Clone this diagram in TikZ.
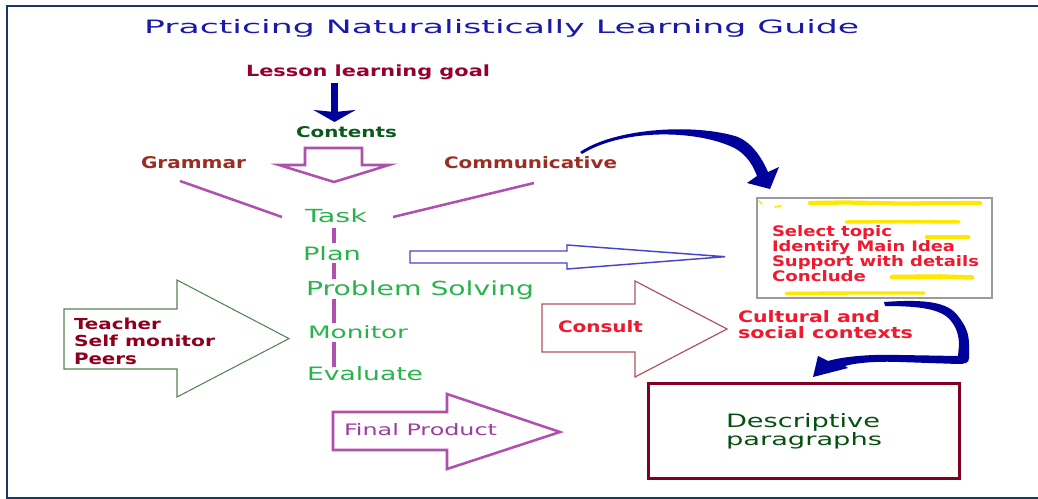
\documentclass[tikz,border=0pt]{standalone}
\usepackage{fontspec}
\setmainfont{DejaVu Sans}
\usepackage{graphicx}
\usetikzlibrary{arrows.meta}
\newlength{\px}
\setlength{\px}{0.75pt}
\newcommand{\fitx}[3]{\resizebox{#1\px}{#2\px}{#3}}
\newcommand{\fitb}[3]{\resizebox{#1\px}{#2\px}{\bfseries #3}}
\newcommand{\stackl}[2]{\vtop{\baselineskip=#1\px\lineskiplimit=-\maxdimen #2}}
\definecolor{framenavy}{RGB}{25,55,105}
\definecolor{titleblue}{RGB}{25,25,170}
\definecolor{goalred}{RGB}{150,0,45}
\definecolor{contgreen}{RGB}{10,90,25}
\definecolor{brownred}{RGB}{155,45,35}
\definecolor{stepgreen}{RGB}{40,180,75}
\definecolor{teachred}{RGB}{140,0,30}
\definecolor{prodpurple}{RGB}{175,80,175}
\definecolor{prodtext}{RGB}{160,60,160}
\definecolor{brightred}{RGB}{240,25,45}
\definecolor{descgreen}{RGB}{5,80,15}
\definecolor{boxred}{RGB}{130,0,30}
\definecolor{handblue}{RGB}{0,0,155}
\definecolor{planblue}{RGB}{70,70,205}
\definecolor{teachgreen}{RGB}{90,130,90}
\definecolor{consultrose}{RGB}{175,85,95}
\definecolor{markyellow}{RGB}{255,232,0}
\definecolor{boxgray}{RGB}{155,155,155}
\tikzset{
  txt/.style={inner sep=0pt, outer sep=0pt, anchor=base west},
  purpleline/.style={draw=prodpurple, line width=1.9pt},
  stemline/.style={draw=prodpurple, line width=2.6pt},
  hollowpurple/.style={draw=prodpurple, line width=1.9pt, line join=miter},
  hollowgreen/.style={draw=teachgreen, line width=0.8pt, line join=miter},
  hollowrose/.style={draw=consultrose, line width=0.9pt, line join=miter},
  hollowblue/.style={draw=planblue, line width=1.1pt, line join=miter},
  handfill/.style={fill=handblue},
  marker/.style={draw=markyellow, line cap=round},
}
\begin{document}
\begin{tikzpicture}[x=0.75pt, y=-0.75pt]
\useasboundingbox (0,0) rectangle (1038,499);
\fill[white] (0,0) rectangle (1038,499);
% frame
\draw[framenavy, line width=1.5pt] (1038,6) -- (7,6) -- (7,498) -- (1038,498);

% title
\node[txt, text=titleblue] (title) at (144,34) {\fitx{715}{14}{Practicing Naturalistically Learning Guide}};

% top chain
\node[txt, text=goalred] (goal) at (246,76.7) {\fitb{244}{11.7}{Lesson learning goal}};
\node[txt, text=contgreen] (contents) at (296,137.3) {\fitb{101}{11}{Contents}};
\coordinate (g1) at (334.5,83);
\coordinate (g2) at (334.5,122);
\draw[handblue, line width=5pt, -{Stealth[length=9pt, width=31.5pt, inset=1.5pt]}] (g1) -- (g2);

% purple hollow down arrow
\draw[hollowpurple] (305,148) -- (362,148) -- (362,165) -- (389,165) -- (334,182) -- (279,165) -- (305,165) -- cycle;

\node[txt, text=brownred] (grammar) at (141,169) {\fitb{105}{12}{Grammar}};
\node[txt, text=brownred] (comm) at (444,169) {\fitb{173}{12}{Communicative}};

% steps
\node[txt, text=stepgreen] (task) at (305,222.7) {\fitx{62}{13.7}{Task}};
\node[txt, text=stepgreen] (plan) at (303,260.7) {\fitx{58}{14}{Plan}};
\node[txt, text=stepgreen] (problem) at (306,295.7) {\fitx{228}{14.7}{Problem Solving}};
\node[txt, text=stepgreen] (monitor) at (308,338) {\fitx{100}{13}{Monitor}};
\node[txt, text=stepgreen] (evaluate) at (307,380.7) {\fitx{116}{14}{Evaluate}};

\coordinate (gl) at (180,181);
\coordinate (gr) at (282,217);
\coordinate (cl) at (393,217);
\coordinate (cr) at (534,183);
\draw[purpleline] (gl) -- (gr);
\draw[purpleline] (cl) -- (cr);

\coordinate (s1) at (334,228);  \coordinate (s2) at (334,243);
\coordinate (s3) at (334,263);  \coordinate (s4) at (334,279);
\coordinate (s5) at (334,299);  \coordinate (s6) at (334,323);
\coordinate (s7) at (334,342);  \coordinate (s8) at (334,367);
\draw[stemline] (s1) -- (s2);
\draw[stemline] (s3) -- (s4);
\draw[stemline] (s5) -- (s6);
\draw[stemline] (s7) -- (s8);

% teacher arrow
\draw[hollowgreen] (64,309) -- (177,309) -- (177,280) -- (289,338.6) -- (177,397) -- (177,369) -- (64,369) -- cycle;
\node[txt, text=teachred] (agents) at (74,329) {\stackl{17.8}{\hbox{\fitb{87}{11.5}{Teacher}}\hbox{\fitb{141}{11.5}{Self monitor}}\hbox{\fitb{63}{11.5}{Peers}}}};

% final product arrow
\draw[hollowpurple] (333,412) -- (447,412) -- (447,394) -- (560,432) -- (447,469) -- (447,450) -- (333,450) -- cycle;
\node[txt, text=prodtext] (final) at (344,435) {\fitx{153}{12}{Final Product}};

% plan arrow
\draw[hollowblue] (410,251) -- (567,251) -- (567,245) -- (725,256.7) -- (567,269) -- (567,263) -- (410,263) -- cycle;

% consult arrow
\draw[hollowrose] (542,304) -- (635,304) -- (635,281) -- (727,329) -- (635,377) -- (635,352) -- (542,352) -- cycle;
\node[txt, text=brightred] (consult) at (558,332) {\fitb{85}{12}{Consult}};
\node[txt, text=brightred] (contexts) at (738,322) {\stackl{16}{\hbox{\fitb{142}{12}{Cultural and}}\hbox{\fitb{175}{12}{social contexts}}}};

% topic box
\node[draw=boxgray, line width=1.1pt, inner sep=0pt, outer sep=0pt, minimum width=176.25pt, minimum height=75pt] (topicbox) at (874.5,248) {};
\draw[marker, line width=3.2pt] (810,203) -- (845,202.5) -- (900,203.5) -- (980,203);
\draw[marker, line width=1.2pt] (759,201) -- (762,204);
\draw[marker, line width=1.2pt] (775,207) -- (781,206);
\draw[marker, line width=2.6pt] (846,222) -- (900,221.5) -- (959,222);
\draw[marker, line width=3.6pt] (927,237) -- (968,237);
\draw[marker, line width=3.4pt] (892,277) -- (940,276.5) -- (972,277.5);
\draw[marker, line width=2.6pt] (786,293.5) -- (850,293) -- (924,293);
\node[txt, text=brightred] (topics) at (772,236) {\stackl{15}{\hbox{\fitb{120}{11}{Select topic}}\hbox{\fitb{183}{11}{Identify Main Idea}}\hbox{\fitb{207}{11}{Support with details}}\hbox{\fitb{94}{11}{Conclude}}}};

% descriptive box
\node[draw=boxred, line width=2.25pt, inner sep=0pt, outer sep=0pt, minimum width=233.25pt, minimum height=71.25pt] (descbox) at (803.5,430.5) {};
\node[txt, text=descgreen] (desc) at (726,427) {\stackl{18}{\hbox{\fitx{154}{14}{Descriptive}}\hbox{\fitx{156}{13}{paragraphs}}}};

% hand-drawn arrow: Communicative -> topic box
\coordinate (h1) at (580,152);
\coordinate (h2) at (770,189);
\fill[handfill] (h1) .. controls (615,128) and (695,123) .. (738,137)
  .. controls (752,143) and (762,158) .. (768,172)
  -- (779,167) -- (h2) -- (747,183) -- (757,176)
  .. controls (752,162) and (743,151) .. (730,146)
  .. controls (690,129) and (620,130) .. (582,154) -- cycle;

% hand-drawn arrow: topic box -> descriptive box
\coordinate (k1) at (884,302);
\coordinate (k2) at (813,377);
\fill[handfill] (k1) .. controls (925,299) and (948,302) .. (958,316)
  .. controls (966,326) and (969,334) .. (969,345) -- (969,358)
  .. controls (969,363) and (965,364) .. (958,364) -- (900,362)
  .. controls (875,361) and (855,363) .. (845,366)
  -- (848,368) -- (k2) -- (818,356) -- (828,361)
  .. controls (845,356) and (875,354) .. (900,355) -- (958,356) -- (959,345)
  .. controls (959,335) and (956,327) .. (951,321)
  .. controls (942,309) and (920,306) .. (885,306) -- cycle;
\end{tikzpicture}
\end{document}
